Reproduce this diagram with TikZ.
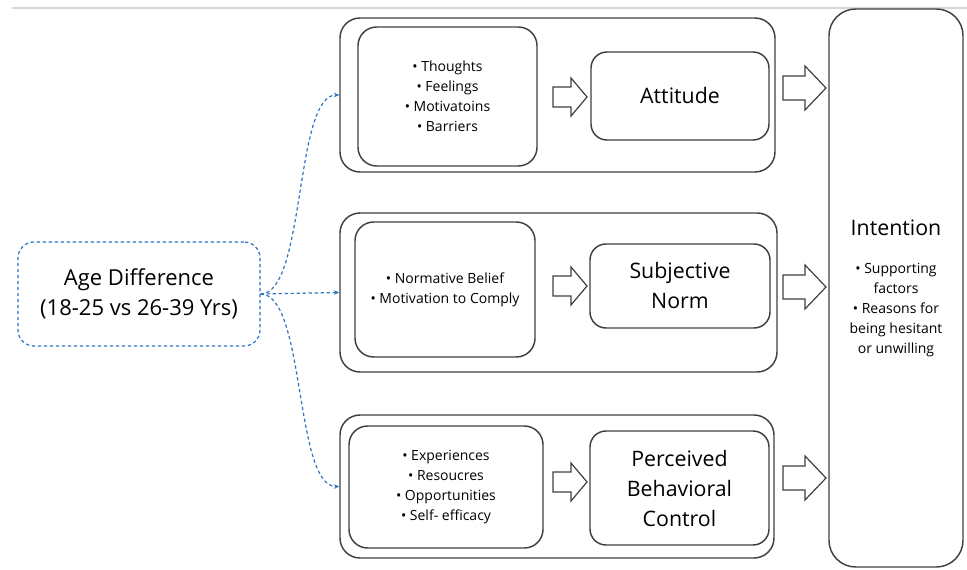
\documentclass[tikz,border=0pt]{standalone}
\usepackage{fontspec}
\setmainfont{Open Sans}
\usetikzlibrary{arrows.meta,fit}

\definecolor{lineGray}{RGB}{64,64,64}
\definecolor{dashBlue}{RGB}{46,117,196}

\tikzset{every picture/.style={line width=0.75pt}}
\tikzset{
  grpbox/.style={draw=lineGray, line width=1.1pt, rounded corners=15pt, inner sep=0pt},
  srcbox/.style={draw=lineGray, line width=1.1pt, rounded corners=14pt, inner sep=0pt},
  keybox/.style={draw=lineGray, line width=1.1pt, rounded corners=12pt, inner sep=0pt},
  srctext/.style={align=center, inner sep=0pt, font=\fontsize{10.5}{15}\selectfont},
  keytext/.style={align=center, inner sep=0pt, font=\fontsize{16}{22.5}\selectfont},
  blockarrow/.style={draw=lineGray, line width=0.9pt, fill=white},
  agelink/.style={draw=dashBlue, line width=0.9pt, dash pattern=on 2.5pt off 2pt,
    -{Stealth[length=4pt,width=3.5pt]}},
}

\begin{document}
\begin{tikzpicture}[x=0.75pt,y=0.75pt,yscale=-1,xscale=1]
\useasboundingbox (0,0) rectangle (967,570);

%Top rule
\draw [color={rgb, 255:red, 215; green, 215; blue, 215 }, line width=0.9pt] (12,8) -- (967,8) ;

%Dashed Rounded Rect
\node [draw=dashBlue, line width=0.9pt, dash pattern=on 2.5pt off 2pt, rounded corners=12pt,
  inner sep=0pt, fit={(18,242) (260,346)}] (agediff) {};
% Text Node
\node [align=center, font=\fontsize{16.5}{22.5}\selectfont] (agetext) at (agediff.center)
  {Age Difference\\(18-25 vs 26-39 Yrs)};

%Group boxes
\node [grpbox, fit={(340,18) (775,172)}] (attgrp) {};
\node [grpbox, fit={(340,213) (777,372)}] (normgrp) {};
\node [grpbox, fit={(340,415) (774,558)}] (pbcgrp) {};

%Rounded Rect (sources)
\node [srcbox, fit={(358,27) (537,166)}] (attsrc) {};
\node [srcbox, fit={(355,222) (535,357)}] (normsrc) {};
\node [srcbox, fit={(349,426) (543,548)}] (pbcsrc) {};

% Text Node
\node [srctext] (attsrctext) at (attsrc.center) {• Thoughts\\• Feelings\\• Motivatoins\\• Barriers};
% Text Node
\node [srctext] (normsrctext) at (normsrc.center) {• Normative Belief\\• Motivation to Comply};
% Text Node
\node [srctext] (pbcsrctext) at (pbcsrc.center) {• Experiences\\• Resoucres\\• Opportunities\\• Self- efficacy};

%Rounded Rect (constructs)
\node [keybox, fit={(591,52) (769,140)}] (att) {};
\node [keybox, fit={(590,244) (770,328)}] (norm) {};
\node [keybox, fit={(590,431) (769,545)}] (pbc) {};

% Text Node
\node [keytext] (atttext) at (att.center) {Attitude};
% Text Node
\node [keytext] (normtext) at (norm.center) {Subjective\\Norm};
% Text Node
\node [keytext] (pbctext) at (pbc.center) {Perceived\\Behavioral\\Control};

%Rounded Rect (intention)
\node [draw=lineGray, line width=1.1pt, rounded corners=20pt, inner sep=0pt, fit={(829,9) (963,567)}] (intent) {};

% Text Node
\node [font=\fontsize{16}{22.5}\selectfont] (intenthead) at (896,228) {Intention};
% Text Node
\node [align=center, font=\fontsize{10.5}{15}\selectfont, anchor=north] (intentlist) at (896,258)
  {• Supporting\\factors\\• Reasons for\\being hesitant\\or unwilling};

%Right Arrow (small)
\draw [blockarrow] (553,87) -- (571,87) -- (571,78) -- (587,97) -- (571,116) -- (571,107) -- (553,107) -- cycle ;
\draw [blockarrow] (553,276) -- (571,276) -- (571,267) -- (587,286) -- (571,305) -- (571,296) -- (553,296) -- cycle ;
\draw [blockarrow] (553,472) -- (571,472) -- (571,463) -- (587,482) -- (571,501) -- (571,492) -- (553,492) -- cycle ;

%Right Arrow (large)
\draw [blockarrow] (783,76) -- (805,76) -- (805,66) -- (826,88) -- (805,110) -- (805,100) -- (783,100) -- cycle ;
\draw [blockarrow] (783,275) -- (805,275) -- (805,265) -- (826,287) -- (805,309) -- (805,299) -- (783,299) -- cycle ;
\draw [blockarrow] (783,466) -- (805,466) -- (805,456) -- (826,478) -- (805,500) -- (805,490) -- (783,490) -- cycle ;

% Connection
\draw [agelink] (agediff.east) .. controls +(45,0) and +(-45,0) .. (attgrp.west) ;
% Connection
\draw [agelink] (agediff.east) -- (normgrp.west) ;
% Connection
\draw [agelink] (agediff.east) .. controls +(45,0) and +(-45,0) .. (pbcgrp.west) ;

\end{tikzpicture}
\end{document}
